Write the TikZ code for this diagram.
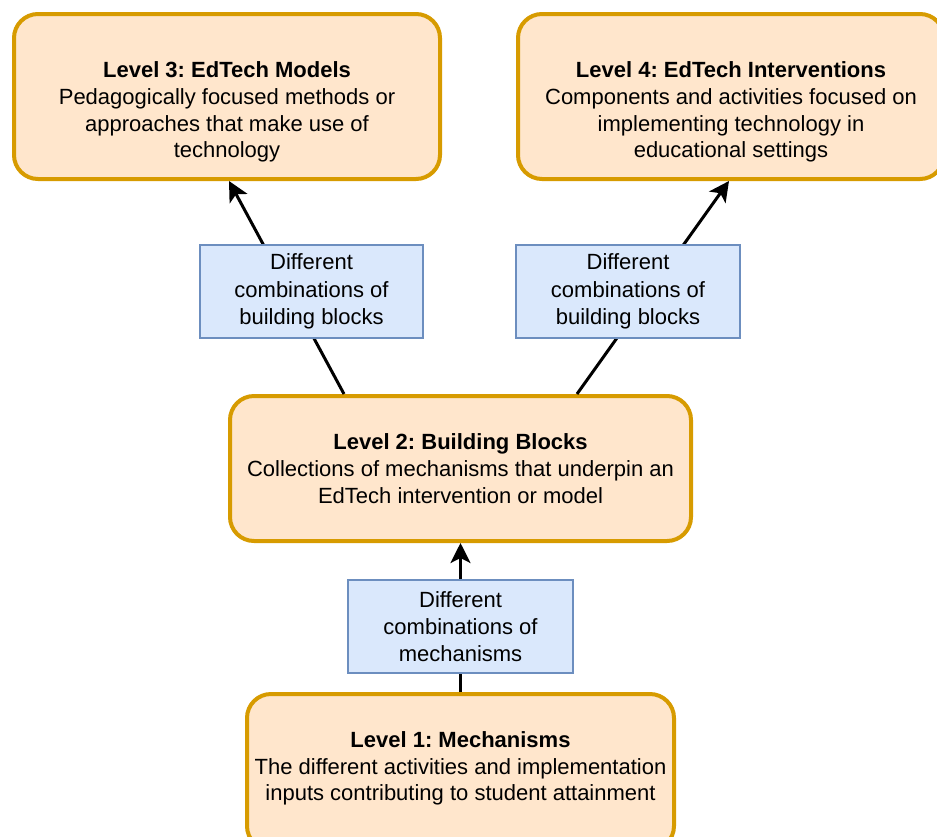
\documentclass[tikz,border=0pt]{standalone}
\usepackage{fontspec}
\setmainfont{Liberation Sans}
\frenchspacing
\usetikzlibrary{arrows.meta,calc}
\definecolor{orfill}{HTML}{FFE6CC}
\definecolor{ordraw}{HTML}{D79B00}
\definecolor{blfill}{HTML}{DAE8FC}
\definecolor{bldraw}{HTML}{6C8EBF}
\tikzset{
  levelbox/.style={draw=ordraw, fill=orfill, line width=4pt, rounded corners=24pt},
  combobox/.style={draw=bldraw, fill=blfill, line width=1.5pt, inner sep=0pt, align=center,
     font=\fontsize{22}{27.3}\selectfont},
  leveltext/.style={align=center, inner sep=0pt, font=\fontsize{22}{26.7}\selectfont},
  arr/.style={line width=3pt, -{Stealth[length=20pt,width=20pt,inset=5pt]}},
}
\begin{document}
\begin{tikzpicture}[x=1pt,y=-1pt]
\useasboundingbox (0,0) rectangle (937,836);
% level boxes
\draw[levelbox] (14,14) rectangle (440,179);
\node[leveltext] (l3) at (227,112) {\textbf{Level 3: EdTech Models}\\Pedagogically focused methods or\\approaches that make use of\\technology};
\draw[levelbox] (518,14) rectangle (944,179);
\node[leveltext] (l4) at (731,112) {\textbf{Level 4: EdTech Interventions}\\Components and activities focused on\\implementing technology in\\educational settings};
\draw[levelbox] (230,396) rectangle (691,541);
\node[leveltext] (l2) at (460.5,468.5) {\textbf{Level 2: Building Blocks}\\Collections of mechanisms that underpin an\\EdTech intervention or model};
\draw[levelbox] (247,694) rectangle (674,850);
\node[leveltext] (l1) at (460.5,768.5) {\textbf{Level 1: Mechanisms}\\The different activities and implementation\\inputs contributing to student attainment};
% anchor coordinates on the box borders
\coordinate (l2a) at (344,394);
\coordinate (l2b) at (577,394);
\coordinate (l2c) at (460.5,543);
\coordinate (l3b) at (229,181);
\coordinate (l4b) at (729,181);
\coordinate (l1t) at (460.5,692);
% connectors
\draw[arr] (l2a) -- (l3b);
\draw[arr] (l2b) -- (l4b);
\draw[arr] (l1t) -- (l2c);
% combination boxes
\node[combobox, minimum width=223pt, minimum height=93pt] (c1) at (311.5,291.5) {Different\\combinations of\\building blocks};
\node[combobox, minimum width=224pt, minimum height=93pt] (c2) at (628,291.5) {Different\\combinations of\\building blocks};
\node[combobox, minimum width=225pt, minimum height=93pt] (c3) at (460.5,626.5) {Different\\combinations of\\mechanisms};
\end{tikzpicture}
\end{document}
